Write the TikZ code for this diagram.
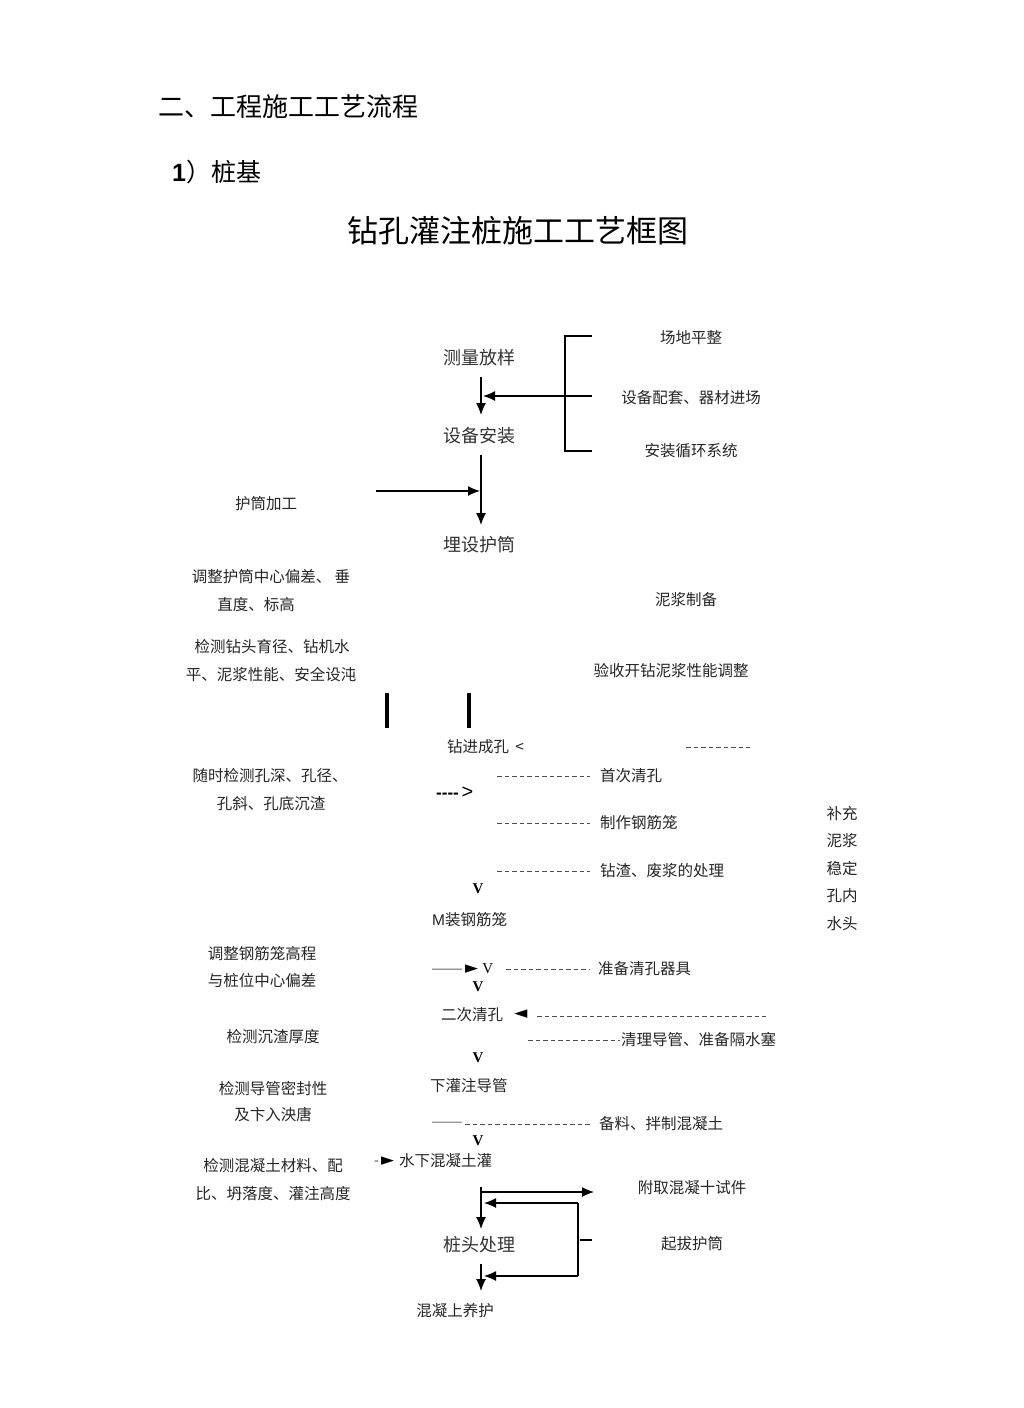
\documentclass[tikz,border=0pt]{standalone}
\usepackage{fontspec}
\setmainfont{Liberation Sans}
\newfontfamily\cjk{Noto Sans CJK SC}
\newfontfamily\symf{DejaVu Sans}
\newfontfamily\tms{Liberation Serif}
\usetikzlibrary{arrows.meta}
\begin{document}
\begin{tikzpicture}[x=1pt,y=-1pt,
  txt/.style={font=\cjk\fontsize{15.5}{16}\selectfont, inner sep=0pt, text=black!85},
  big/.style={font=\cjk\fontsize{18}{18}\selectfont, inner sep=0pt, text=black!80},
  vmark/.style={font=\tms\bfseries\fontsize{15}{15}\selectfont, inner sep=0pt},
  arr/.style={line width=1.3pt, -{Latex[length=12pt,width=10pt]}},
  ln/.style={line width=1.3pt},
  dsh/.style={line width=0.8pt, black!70, dash pattern=on 4.5pt off 3pt},
  bar/.style={line width=4pt}]
\useasboundingbox (0,0) rectangle (1024,1408);
\fill[white] (0,0) rectangle (1024,1408);

% headings
\node[anchor=west, inner sep=0pt, font=\cjk\fontsize{26}{26}\selectfont] (h1) at (158,107) {二、工程施工工艺流程};
\node[anchor=west, inner sep=0pt, font=\cjk\fontsize{25}{25}\selectfont] (h2) at (172,172) {{\fontspec{Liberation Sans}\bfseries 1}）桩基};
\node[inner sep=0pt, font=\cjk\fontsize{31}{31}\selectfont] (title) at (518,231) {钻孔灌注桩施工工艺框图};

% main column
\node[big] (n1) at (479,358) {测量放样};
\node[big] (n2) at (479,436) {设备安装};
\node[big] (n3) at (479,545) {埋设护筒};

% right bracket group
\node[txt] (r1) at (691,338) {场地平整};
\node[txt] (r2) at (691,398) {设备配套、器材进场};
\node[txt] (r3) at (691,451) {安装循环系统};
\coordinate (b1) at (592,336);
\coordinate (b0) at (565,336);
\coordinate (b3) at (565,451);
\coordinate (b4) at (592,451);
\coordinate (bm) at (592,396);
\coordinate (bt) at (483,396);
\draw[ln] (b1) -- (b0) -- (b3) -- (b4);
\draw[arr] (bm) -- (bt);

\coordinate (a1s) at (481,377);
\coordinate (a1e) at (481,415);
\draw[arr] (a1s) -- (a1e);
\coordinate (a2s) at (481,455);
\coordinate (a2e) at (481,525);
\draw[arr] (a2s) -- (a2e);
\coordinate (a3s) at (376,491);
\coordinate (a3e) at (480,491);
\draw[arr] (a3s) -- (a3e);

\node[txt] (l1) at (266,504) {护筒加工};
\node[txt] (l2a) at (271,577) {调整护筒中心偏差、\ 垂};
\node[txt] (l2b) at (256,605) {直度、标高};
\node[txt] (l3a) at (272,647) {检测钻头育径、钻机水};
\node[txt] (l3b) at (271,675) {平、泥浆性能、安全设沌};
\node[txt] (r4) at (686,600) {泥浆制备};
\node[txt] (r5) at (671,671) {验收开钻泥浆性能调整};

\draw[bar] (387,693) -- (387,728);
\draw[bar] (469,693) -- (469,728);

% drilling
\node[txt, anchor=west] (n4) at (447,747) {钻进成孔 \,<};
\coordinate (d0s) at (686,747);
\coordinate (d0e) at (750,747);
\draw[dsh] (d0s) -- (d0e);

\node[txt] (l4a) at (270,776) {随时检测孔深、孔径、};
\node[txt] (l4b) at (271,804) {孔斜、孔底沉渣};

\node[anchor=west, inner sep=0pt, font=\fontsize{17}{17}\selectfont] (gt) at (436,793) {\textbf{-{}-{}-{}-}\,{\fontsize{20}{20}\selectfont\textgreater}};

\coordinate (d1s) at (497,776);
\coordinate (d1e) at (590,776);
\draw[dsh] (d1s) -- (d1e);
\node[txt, anchor=west] (r6) at (600,776) {首次清孔};
\coordinate (d2s) at (497,823);
\coordinate (d2e) at (590,823);
\draw[dsh] (d2s) -- (d2e);
\node[txt, anchor=west] (r7) at (600,823) {制作钢筋笼};
\coordinate (d3s) at (497,871);
\coordinate (d3e) at (590,871);
\draw[dsh] (d3s) -- (d3e);
\node[txt, anchor=west] (r8) at (600,871) {钻渣、废浆的处理};

\node[txt] (s1) at (842,814) {补充};
\node[txt] (s2) at (842,841) {泥浆};
\node[txt] (s3) at (842,869) {稳定};
\node[txt] (s4) at (842,896) {孔内};
\node[txt] (s5) at (842,924) {水头};

\node[vmark] (v1) at (478,889) {V};
\node[txt, anchor=west] (n5) at (432,920) {{\fontspec{Liberation Sans}M}装钢筋笼};

\node[txt] (l5a) at (262,954) {调整钢筋笼高程};
\node[txt] (l5b) at (262,981) {与桩位中心偏差};

\node[anchor=west, inner sep=0pt, font=\fontsize{15}{15}\selectfont] (tri1) at (432,969) {\textcolor{black!60}{——}\hspace{3pt}{\symf\fontsize{17}{17}\selectfont ►}\hspace{4pt}{\tms V}};
\coordinate (d4s) at (506,969);
\coordinate (d4e) at (590,969);
\draw[dsh] (d4s) -- (d4e);
\node[txt, anchor=west] (r9) at (598,969) {准备清孔器具};
\node[vmark] (v2) at (478,987) {V};

\node[txt, anchor=west] (n6) at (441,1015) {二次清孔};
\node[inner sep=0pt, font=\symf\fontsize{17}{17}\selectfont] (tri2) at (521,1014) {◄};
\coordinate (d5s) at (537,1016);
\coordinate (d5e) at (766,1016);
\draw[dsh] (d5s) -- (d5e);
\node[txt] (l6) at (273,1037) {检测沉渣厚度};
\coordinate (d6s) at (528,1040);
\coordinate (d6e) at (620,1040);
\draw[dsh] (d6s) -- (d6e);
\node[txt, anchor=west] (r10) at (621,1040) {清理导管、准备隔水塞};
\node[vmark] (v3) at (478,1058) {V};

\node[txt, anchor=west] (n7) at (430,1086) {下灌注导管};
\node[txt] (l7a) at (273,1089) {检测导管密封性};
\node[txt] (l7b) at (273,1115) {及卞入泱唐};

\node[anchor=west, inner sep=0pt, font=\fontsize{15}{15}\selectfont, text=black!55] (dd) at (432,1124) {——};
\coordinate (d7s) at (465,1124);
\coordinate (d7e) at (590,1124);
\draw[dsh] (d7s) -- (d7e);
\node[txt, anchor=west] (r11) at (599,1124) {备料、拌制混凝土};
\node[vmark] (v4) at (478,1141) {V};

\node[txt] (l8a) at (273,1166) {检测混凝土材料、配};
\node[txt] (l8b) at (273,1194) {比、坍落度、灌注高度};
\node[anchor=west, inner sep=0pt, font=\fontsize{15}{15}\selectfont] (tri3) at (374,1161) {\textcolor{black!60}{-}\hspace{2pt}{\symf\fontsize{17}{17}\selectfont ►}};
\node[txt, anchor=west] (n8) at (399,1161) {水下混凝土灌};

% bottom loop
\coordinate (e1s) at (481,1187);
\coordinate (e1e) at (481,1229);
\draw[arr] (e1s) -- (e1e);
\coordinate (e2s) at (481,1192);
\coordinate (e2e) at (594,1192);
\draw[arr] (e2s) -- (e2e);
\node[txt] (r12) at (692,1188) {附取混凝十试件};
\node[big] (n9) at (479,1245) {桩头处理};
\node[txt] (r13) at (692,1244) {起拔护筒};
\coordinate (f0) at (578,1203);
\coordinate (f1) at (484,1203);
\coordinate (f2) at (578,1276);
\coordinate (f3) at (484,1276);
\draw[arr] (f0) -- (f1);
\draw[ln] (f0) -- (f2);
\draw[arr] (f2) -- (f3);
\coordinate (t0) at (580,1240);
\coordinate (t1) at (592,1240);
\draw[ln] (t0) -- (t1);
\coordinate (e3s) at (481,1264);
\coordinate (e3e) at (481,1291);
\draw[arr] (e3s) -- (e3e);
\node[txt] (n10) at (455,1311) {混凝上养护};
\end{tikzpicture}
\end{document}
